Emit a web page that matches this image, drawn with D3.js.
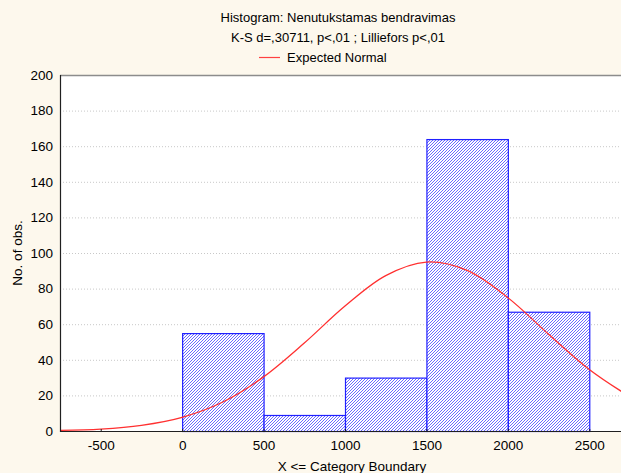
<!DOCTYPE html>
<html><head><meta charset="utf-8">
<script src="https://cdn.jsdelivr.net/npm/d3@7"></script>
<style>
html,body{margin:0;padding:0;background:#fdf8ed;}
svg{display:block;font-family:"Liberation Sans",Arial,sans-serif;}
</style></head><body>
<script>
// Data
const binStarts = [0, 500, 1000, 1500, 2000];
const binWidth = 500;
const counts = [55, 9, 30, 164, 67];
const xTicks = [-500, 0, 500, 1000, 1500, 2000, 2500];
const yTicks = [0, 20, 40, 60, 80, 100, 120, 140, 160, 180, 200];
const normalX = [-750, -500, -250, 0, 250, 500, 750, 1000, 1250, 1500, 1750, 2000, 2250, 2500, 2750];
const normalY = [0.4, 1.1, 3.2, 7.7, 16.3, 30.4, 49.4, 70.2, 87.3, 94.9, 90.2, 74.9, 54.4, 34.6, 19.2];
const titleLines = ["Histogram: Nenutukstamas bendravimas", "K-S d=,30711, p<,01 ; Lilliefors p<,01"];

const W = 621, H = 473;
const m = {left: 60, top: 75, bottom: 431};
const plotRight = 630;

const svg = d3.select("body").append("svg").attr("width", W).attr("height", H);
svg.append("rect").attr("width", W).attr("height", H).attr("fill", "#fdf8ed");

const defs = svg.append("defs");
const pat = defs.append("pattern").attr("id", "hatch").attr("patternUnits", "userSpaceOnUse")
  .attr("width", 3).attr("height", 3);
pat.append("rect").attr("width", 3).attr("height", 3).attr("fill", "#ffffff");
pat.append("path").attr("d", "M-1,1 l2,-2 M0,3 l3,-3 M2,4 l2,-2")
  .attr("stroke", "#6a6aff").attr("stroke-width", 1);
defs.append("clipPath").attr("id", "clip").append("rect")
  .attr("x", m.left).attr("y", m.top).attr("width", plotRight - m.left).attr("height", m.bottom - m.top);

const x = d3.scaleLinear().domain([-750, 2750]).range([m.left, plotRight]);
const y = d3.scaleLinear().domain([0, 200]).range([m.bottom, m.top]);

// plot background
svg.append("rect").attr("x", m.left).attr("y", m.top).attr("width", plotRight - m.left)
  .attr("height", m.bottom - m.top).attr("fill", "#ffffff");

// grid
svg.append("g").selectAll("line").data(yTicks.filter(d => d > 0 && d < 200)).join("line")
  .attr("x1", m.left).attr("x2", plotRight).attr("y1", d => y(d) + 0.5).attr("y2", d => y(d) + 0.5)
  .attr("stroke", "#c8c8c8").attr("stroke-dasharray", "1,2");

// bars
svg.append("g").selectAll("rect").data(counts).join("rect")
  .attr("x", (d, i) => x(binStarts[i]) + 0.5)
  .attr("y", d => y(d) + 0.5)
  .attr("width", (d, i) => x(binStarts[i] + binWidth) - x(binStarts[i]))
  .attr("height", d => y(0) - y(d))
  .attr("fill", "url(#hatch)").attr("stroke", "#2020ff").attr("stroke-width", 1.2);

// normal curve
const line = d3.line().x(d => x(d[0])).y(d => y(d[1])).curve(d3.curveCatmullRom);
svg.append("path").datum(normalX.map((v, i) => [v, normalY[i]]))
  .attr("clip-path", "url(#clip)")
  .attr("d", line).attr("fill", "none").attr("stroke", "#ff3030").attr("stroke-width", 1.3);

// frame
svg.append("line").attr("x1", m.left).attr("x2", plotRight).attr("y1", m.top + 0.5).attr("y2", m.top + 0.5)
  .attr("stroke", "#8c8c8c").attr("stroke-width", 1.5);
svg.append("line").attr("x1", m.left + 0.5).attr("x2", m.left + 0.5).attr("y1", m.top).attr("y2", m.bottom + 1)
  .attr("stroke", "#202020").attr("stroke-width", 1.2);
svg.append("line").attr("x1", m.left).attr("x2", plotRight).attr("y1", m.bottom + 0.5).attr("y2", m.bottom + 0.5)
  .attr("stroke", "#202020").attr("stroke-width", 1.2);

// y axis
const yAxis = d3.axisLeft(y).tickValues(yTicks).tickSize(0).tickPadding(7);
const gy = svg.append("g").attr("transform", `translate(${m.left},0)`).call(yAxis);
gy.select(".domain").remove();
gy.selectAll("text").attr("font-size", 13.5).attr("fill", "#000").attr("font-family", "Liberation Sans, Arial, sans-serif");

// x axis
const xAxis = d3.axisBottom(x).tickValues(xTicks).tickSize(0).tickPadding(9).tickFormat(d => String(d));
const gx = svg.append("g").attr("transform", `translate(0,${m.bottom})`).call(xAxis);
gx.select(".domain").remove();
gx.selectAll("text").attr("font-size", 13.5).attr("fill", "#000").attr("font-family", "Liberation Sans, Arial, sans-serif");
svg.append("g").selectAll("line").data(xTicks).join("line")
  .attr("x1", d => x(d) + 0.5).attr("x2", d => x(d) + 0.5).attr("y1", m.bottom - 2).attr("y2", m.bottom)
  .attr("stroke", "#202020");

// axis titles
svg.append("text").attr("x", 352).attr("y", 471).attr("text-anchor", "middle")
  .attr("font-size", 13.5).text("X <= Category Boundary");
svg.append("text").attr("transform", "translate(22,253) rotate(-90)").attr("text-anchor", "middle")
  .attr("font-size", 13.5).text("No. of obs.");

// titles
svg.append("g").selectAll("text").data(titleLines).join("text")
  .attr("x", 338).attr("y", (d, i) => 22 + i * 20).attr("text-anchor", "middle")
  .attr("font-size", 13).text(d => d);

// legend
svg.append("line").attr("x1", 259).attr("x2", 280).attr("y1", 57.5).attr("y2", 57.5)
  .attr("stroke", "#ff4040").attr("stroke-width", 1.2);
svg.append("text").attr("x", 287).attr("y", 62).attr("font-size", 13).text("Expected Normal");
</script>
</body></html>
